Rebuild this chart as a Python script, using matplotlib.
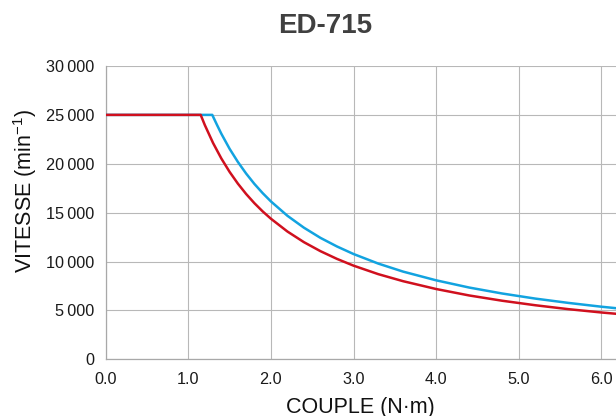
import matplotlib
matplotlib.use("Agg")
import matplotlib.pyplot as plt

# Data
red_torque = [0, 1.15, 1.2, 1.3, 1.4, 1.5, 1.6, 1.7, 1.8, 1.9, 2.0, 2.2, 2.4, 2.6, 2.8,
              3.0, 3.3, 3.6, 4.0, 4.4, 4.8, 5.2, 5.6, 6.0, 6.2]
red_speed = [25000, 25000, 23960, 22120, 20540, 19170, 17970, 16910, 15970, 15130, 14380,
             13070, 11980, 11060, 10270, 9580, 8710, 7990, 7190, 6530, 5990, 5530, 5130,
             4790, 4640]

blue_torque = [0, 1.29, 1.35, 1.4, 1.5, 1.6, 1.7, 1.8, 1.9, 2.0, 2.2, 2.4, 2.6, 2.8,
               3.0, 3.3, 3.6, 4.0, 4.4, 4.8, 5.2, 5.6, 6.0, 6.2]
blue_speed = [25000, 25000, 23930, 23070, 21530, 20190, 19000, 17940, 17000, 16150, 14680,
              13460, 12420, 11540, 10770, 9790, 8970, 8080, 7340, 6730, 6210, 5770, 5380,
              5210]

x_ticks = [0, 1, 2, 3, 4, 5, 6]
x_tick_labels = ["0.0", "1.0", "2.0", "3.0", "4.0", "5.0", "6.0"]
y_ticks = [0, 5000, 10000, 15000, 20000, 25000, 30000]
y_tick_labels = ["0", "5\u2009000", "10\u2009000", "15\u2009000", "20\u2009000",
                 "25\u2009000", "30\u2009000"]

title = "ED-715"
xlabel = "COUPLE (N·m)"
ylabel = "VITESSE (min$^{-1}$)"

plt.rcParams['font.family'] = ['Liberation Sans', 'DejaVu Sans']
plt.rcParams['mathtext.fontset'] = 'custom'
plt.rcParams['mathtext.rm'] = 'Liberation Sans'
plt.rcParams['mathtext.it'] = 'Liberation Sans'

W, H = 616, 416
fig = plt.figure(figsize=(W / 100, H / 100), dpi=100)
left, right, bottom, top = 105.7, 616, 359.3, 66
ax = fig.add_axes([left / W, 1 - bottom / H, (right - left) / W, (bottom - top) / H])

ax.plot(blue_torque, blue_speed, color="#12a3e0", lw=1.8, solid_capstyle='butt', zorder=3)
ax.plot(red_torque, red_speed, color="#d0101e", lw=1.8, solid_capstyle='butt', zorder=4)

ax.set_xlim(0, (right - left) / 82.6)
ax.set_ylim(0, 30000)
ax.set_xticks(x_ticks)
ax.set_xticklabels(x_tick_labels)
ax.set_yticks(y_ticks)
ax.set_yticklabels(y_tick_labels)
ax.tick_params(axis='both', length=0, labelsize=11.7, colors="#1a1a1a")
ax.tick_params(axis='x', pad=9.4)
ax.tick_params(axis='y', pad=8.4)

ax.grid(True, color="#b8b8b8", lw=0.8)
ax.set_axisbelow(True)
for s in ['top', 'right']:
    ax.spines[s].set_visible(False)
for s in ['left', 'bottom']:
    ax.spines[s].set_color("#a8a8a8")
    ax.spines[s].set_linewidth(0.9)

ax.set_xlabel(xlabel, fontsize=15.5, color="#111111")
ax.xaxis.set_label_coords(0.5, -(407 - 359.3) / (bottom - top), transform=ax.transAxes)
ax.xaxis.label.set_va('center')
ax.set_ylabel(ylabel, fontsize=15.5, color="#111111")
ax.yaxis.set_label_coords((25 - left) / (right - left), (bottom - 191) / (bottom - top))
ax.yaxis.label.set_va('center')

fig.text(325 / W, 1 - 26 / H, title, ha='center', va='center', fontsize=20,
         fontweight='bold', color="#404040")

fig.savefig("out.png", dpi=100)
